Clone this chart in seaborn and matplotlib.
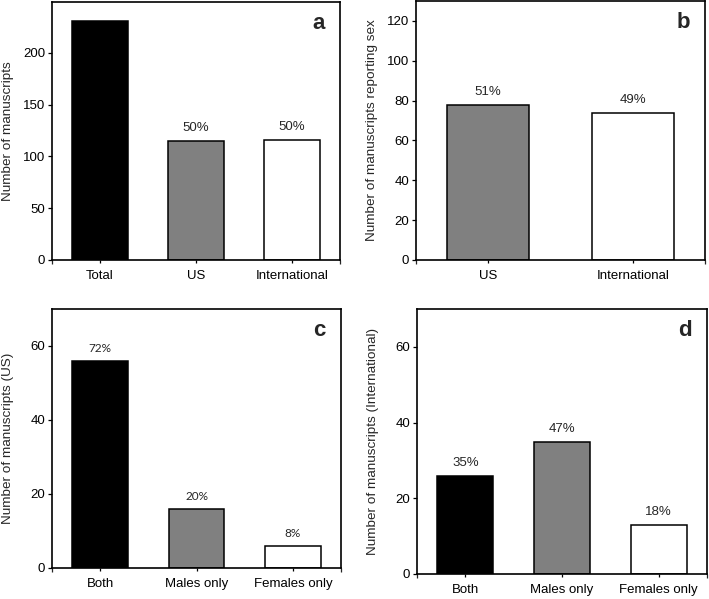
import matplotlib
matplotlib.use("Agg")
import matplotlib.pyplot as plt
import seaborn as sns
import pandas as pd

sns.set_style("white")
plt.rcParams['font.family'] = ['Liberation Sans', 'DejaVu Sans']

# Data
cats_a = ["Total", "US", "International"]
vals_a = [231, 115, 116]
pct_a = ["", "50%", "50%"]

cats_b = ["US", "International"]
vals_b = [78, 74]
pct_b = ["51%", "49%"]

cats_c = ["Both", "Males only", "Females only"]
vals_c = [56, 16, 6]
pct_c = ["72%", "20%", "8%"]

cats_d = ["Both", "Males only", "Females only"]
vals_d = [26, 35, 13]
pct_d = ["35%", "47%", "18%"]

W, H = 709, 599
fig = plt.figure(figsize=(W / 100, H / 100), dpi=100)

def axes_px(l, r, t, b):
    return fig.add_axes([l / W, 1 - b / H, (r - l) / W, (b - t) / H])

panels = [
    dict(box=(52, 340, 2, 260), cats=cats_a, vals=vals_a, pct=pct_a,
         colors=["black", "#808080", "white"], ylim=249, ticks=[0, 50, 100, 150, 200],
         ylabel="Number of manuscripts", letter="a", width=0.58, pfont=None),
    dict(box=(416, 705, 1, 260), cats=cats_b, vals=vals_b, pct=pct_b,
         colors=["#808080", "white"], ylim=130, ticks=[0, 20, 40, 60, 80, 100, 120],
         ylabel="Number of manuscripts reporting sex", letter="b", width=0.57, pfont=None),
    dict(box=(52, 341, 309, 568), cats=cats_c, vals=vals_c, pct=pct_c,
         colors=["black", "#808080", "white"], ylim=70, ticks=[0, 20, 40, 60],
         ylabel="Number of manuscripts (US)", letter="c", width=0.58, pfont="Lato"),
    dict(box=(417, 707, 309, 574), cats=cats_d, vals=vals_d, pct=pct_d,
         colors=["black", "#808080", "white"], ylim=70, ticks=[0, 20, 40, 60],
         ylabel="Number of manuscripts (International)", letter="d", width=0.58, pfont=None),
]

for p in panels:
    ax = axes_px(*p["box"])
    df = pd.DataFrame({"cat": p["cats"], "val": p["vals"]})
    sns.barplot(data=df, x="cat", y="val", hue="cat", palette=p["colors"],
                saturation=1, edgecolor="black", linewidth=1.1, width=p["width"],
                legend=False, ax=ax)
    n = len(p["cats"])
    ax.set_xlim(-0.5, n - 0.5)
    ax.set_ylim(0, p["ylim"])
    ax.set_yticks(p["ticks"])
    ax.set_xlabel("")
    ax.set_ylabel(p["ylabel"], fontsize=9.7)
    ax.yaxis.set_label_coords(-0.132, 0.5)
    for s in ax.spines.values():
        s.set_visible(True)
        s.set_color("black")
        s.set_linewidth(1.2)
    ax.tick_params(axis="y", which="major", direction="out", length=3, width=0.9,
                   labelsize=9.5, left=True, right=False, pad=2, colors="black")
    ax.tick_params(axis="x", which="major", direction="out", length=1.8, width=0.9,
                   labelsize=9.5, pad=5.5, colors="black", bottom=True, top=False)
    ax.set_xticks([-0.5, n - 0.5], minor=True)
    ax.tick_params(axis="x", which="minor", direction="out", length=3, width=0.9,
                   bottom=True, top=False)
    for i, (v, t) in enumerate(zip(p["vals"], p["pct"])):
        if t:
            if p["pfont"]:
                kw = dict(fontsize=8.5, family=[p["pfont"], "DejaVu Sans"])
            else:
                kw = dict(fontsize=9.5)
            ax.annotate(t, xy=(i, v), xytext=(0, 5), textcoords="offset points",
                        ha="center", va="bottom", **kw)
    ax.text(0.948, 0.897, p["letter"], transform=ax.transAxes, ha="right",
            va="baseline", fontsize=16, fontweight="bold")

fig.savefig("out.png", dpi=100)
